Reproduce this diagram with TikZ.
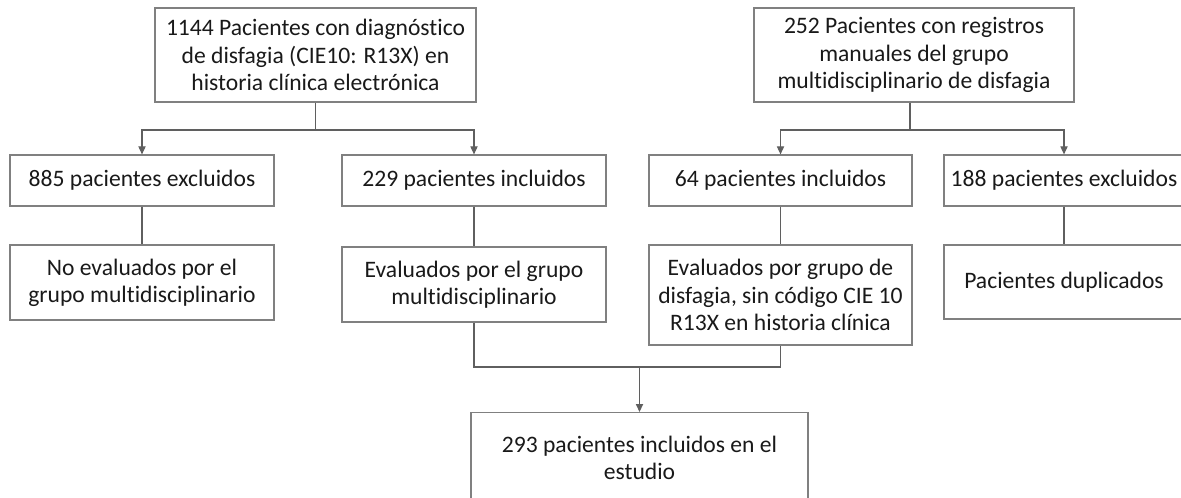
\documentclass[tikz,border=0pt]{standalone}
\usepackage{fontspec}
\setmainfont{Carlito}[Ligatures=CommonOff]
\usetikzlibrary{arrows.meta,calc,positioning}
\definecolor{boxgray}{RGB}{128,128,128}
\definecolor{wiregray}{RGB}{95,95,95}
\definecolor{txtgray}{RGB}{25,25,25}
\tikzset{
	flow box/.style={draw=boxgray,line width=0.6pt,align=center,inner sep=2pt,
		font=\fontsize{11.8}{13.6}\selectfont,text=txtgray},
	flow wire/.style={draw=wiregray,line width=0.55pt},
	flow arrow/.style={flow wire,-{Triangle[length=4pt,width=3.6pt]}},
	% sizes of the boxes per row
	top box/.style={flow box,minimum width=160.5pt,minimum height=47pt},
	count box/.style={flow box,minimum width=132pt,minimum height=25.5pt},
}

\begin{document}
\begin{tikzpicture}[x=0.5pt,y=-0.5pt]
	\useasboundingbox (0,0) rectangle (1181,497);
	% sources
	\node[top box] (hce) at (315.5,55) {1144 Pacientes con diagnóstico\\de disfagia (CIE10: R13X) en\\historia clínica electrónica};
	\node[top box,minimum width=160pt] (reg) at (914,55) {252 Pacientes con registros\\manuales del grupo\\multidisciplinario de disfagia};
	% counts
	\node[count box] (exc1) at (142,180.5) {885 pacientes excluidos};
	\node[count box] (inc1) at (474,180.5) {229 pacientes incluidos};
	\node[count box,minimum width=131.5pt] (inc2) at (780.5,180.5) {64 pacientes incluidos};
	\node[count box,minimum width=120pt] (exc2) at (1064,180.5) {188 pacientes excluidos};
	% reasons
	\node[flow box,minimum width=132pt,minimum height=37.5pt] (noev) at (142,282.5) {No evaluados por el\\grupo multidisciplinario};
	\node[flow box,minimum width=132pt,minimum height=37.5pt] (ev1) at (474,284.5) {Evaluados por el grupo\\multidisciplinario};
	\node[flow box,minimum width=131.5pt,minimum height=50pt] (ev2) at (780.5,295) {Evaluados por grupo de\\disfagia, sin código CIE 10\\R13X en historia clínica};
	\node[flow box,minimum width=120pt,minimum height=37pt] (dup) at (1064,282) {Pacientes duplicados};
	% result
	\node[flow box,minimum width=168.5pt,minimum height=45pt,anchor=north] (total) at (639.5,412) {293 pacientes incluidos en el\\estudio};

	\coordinate (s1) at (315.5,130);
	\coordinate (s2) at (910,130);
	\coordinate (m1) at (474,367);
	\coordinate (m2) at (780.5,367);
	\coordinate (m) at (639.5,367);

	\draw[flow wire] (hce.south) -- (s1);
	\draw[flow arrow] (s1) -| (exc1.north);
	\draw[flow arrow] (s1) -| (inc1.north);
	\draw[flow wire] (reg.south -| s2) -- (s2);
	\draw[flow arrow] (s2) -| (inc2.north);
	\draw[flow arrow] (s2) -| (exc2.north);
	\draw[flow wire] (exc1) -- (noev);
	\draw[flow wire] (inc1) -- (ev1);
	\draw[flow wire] (inc2) -- (ev2);
	\draw[flow wire] (exc2) -- (dup);
	\draw[flow wire] (ev1.south) -- (m1) -- (m2) -- (ev2.south);
	\draw[flow arrow] (m) -- (total.north);
\end{tikzpicture}
\end{document}
